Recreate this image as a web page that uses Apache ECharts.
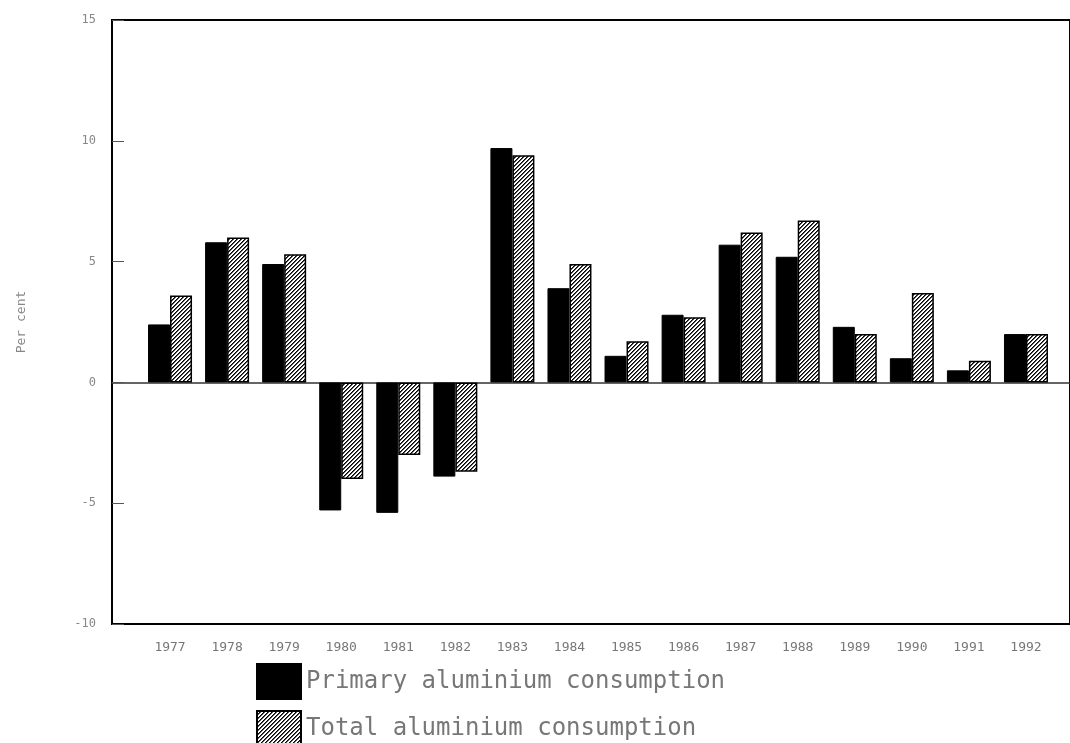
<!DOCTYPE html>
<html>
<head>
<meta charset="utf-8">
<script src="https://cdn.jsdelivr.net/npm/echarts@6/dist/echarts.min.js"></script>
<style>
html,body{margin:0;padding:0;background:#fff;}
#chart{width:1070px;height:743px;}
</style>
</head>
<body>
<div id="chart"></div>
<script>
const years = ['1977','1978','1979','1980','1981','1982','1983','1984','1985','1986','1987','1988','1989','1990','1991','1992'];
const yearLabels = ['1977','1978','1979','1980','1981','1982','1983','1984','1985','1986','1987','1988','1989','1990','1991','1992'];
const primary = [2.4, 5.8, 4.9, -5.3, -5.4, -3.9, 9.7, 3.9, 1.1, 2.8, 5.7, 5.2, 2.3, 1.0, 0.5, 2.0];
const total = [3.6, 6.0, 5.3, -4.0, -3.0, -3.7, 9.4, 4.9, 1.7, 2.7, 6.2, 6.7, 2.0, 3.7, 0.9, 2.0];
const seriesNames = ['Primary aluminium consumption', 'Total aluminium consumption'];
const yTicks = [-10, -5, 0, 5, 10, 15];

function hatch() {
  const c = document.createElement('canvas');
  c.width = 4; c.height = 4;
  const ctx = c.getContext('2d');
  ctx.fillStyle = '#fff';
  ctx.fillRect(0, 0, 4, 4);
  for (let i = 0; i < 4; i++) {
    ctx.fillStyle = '#000';
    ctx.fillRect(3 - i, i, 1, 1);
    ctx.fillStyle = '#555';
    ctx.fillRect((4 - i) % 4, i, 1, 1);
  }
  return c;
}
const hatchPattern = { image: hatch(), repeat: 'repeat' };

const legendText = { color: '#777', fontFamily: 'DejaVu Sans Mono', fontSize: 24, padding: [22, 0, 0, 0] };

const chart = echarts.init(document.getElementById('chart'), null, { renderer: 'canvas' });
chart.setOption({
  animation: false,
  backgroundColor: '#fff',
  grid: [
    { left: 112, top: 20, right: -4, bottom: 119, show: true, borderColor: '#000', borderWidth: 2, backgroundColor: 'transparent' },
    { left: 141.5, top: 20, right: 15.5, bottom: 119 }
  ],
  xAxis: [
    { type: 'value', gridIndex: 0, min: 0, max: 1,
      axisLine: { show: true, onZero: true, lineStyle: { color: '#333', width: 1.5 } },
      axisTick: { show: false }, axisLabel: { show: false }, splitLine: { show: false } },
    { type: 'category', gridIndex: 1, data: years,
      axisLine: { show: false, onZero: false }, axisTick: { show: false },
      axisLabel: { color: '#777', fontFamily: 'DejaVu Sans Mono', fontSize: 13, margin: 17,
        formatter: (v, i) => yearLabels[i] } }
  ],
  yAxis: [
    { type: 'value', gridIndex: 0, min: yTicks[0], max: yTicks[yTicks.length - 1], interval: 5,
      name: 'Per cent', nameLocation: 'middle', nameGap: 84,
      nameTextStyle: { color: '#888', fontFamily: 'DejaVu Sans Mono', fontSize: 13 },
      axisLine: { show: false },
      axisTick: { show: true, inside: true, length: 12, lineStyle: { color: '#555' } },
      axisLabel: { color: '#888', fontFamily: 'DejaVu Sans Mono', fontSize: 12, margin: 16 },
      splitLine: { show: false } },
    { type: 'value', gridIndex: 1, min: yTicks[0], max: yTicks[yTicks.length - 1], interval: 5, show: false }
  ],
  legend: [
    { left: 256, top: 663, padding: 0, itemWidth: 44, itemHeight: 35, itemGap: 8, icon: 'rect',
      data: [seriesNames[0]], textStyle: legendText },
    { left: 256, top: 710, padding: 0, itemWidth: 44, itemHeight: 35, itemGap: 8, icon: 'rect',
      data: [seriesNames[1]], textStyle: legendText }
  ],
  series: [
    { name: seriesNames[0], type: 'bar', xAxisIndex: 1, yAxisIndex: 1, data: primary,
      barWidth: 22, barGap: '0%',
      itemStyle: { color: '#000', borderColor: '#000', borderWidth: 1 } },
    { name: seriesNames[1], type: 'bar', xAxisIndex: 1, yAxisIndex: 1, data: total,
      barWidth: 22, barGap: '0%',
      itemStyle: { color: hatchPattern, borderColor: '#000', borderWidth: 1.5 } }
  ]
});
</script>
</body>
</html>
